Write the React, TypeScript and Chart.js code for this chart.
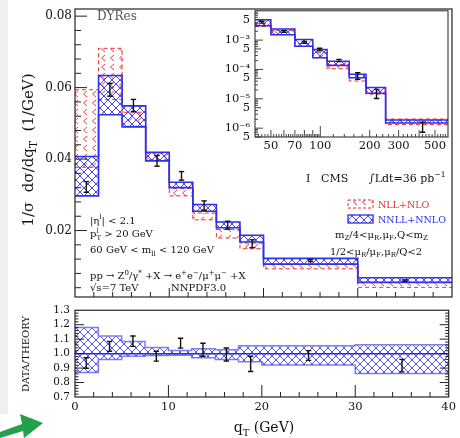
import React, { useEffect, useRef } from "react";
import { Chart, registerables } from "chart.js";
Chart.register(...registerables);

const FONT = '"DejaVu Serif", "Liberation Serif", serif';

// ---------- main panel data (1/sigma dsigma/dqT) ----------
const binEdges = [0, 2.5, 5, 7.5, 10, 12.5, 15, 17.5, 20, 30, 40];
const nnllHigh = [0.0407, 0.0634, 0.0549, 0.0419, 0.0335, 0.0273, 0.0224, 0.0187, 0.0122, 0.0068];
const nnllLow = [0.0297, 0.0524, 0.0490, 0.0395, 0.0320, 0.0254, 0.0208, 0.0168, 0.0106, 0.0055];
const nloHigh = [0.0594, 0.0710, 0.0531, 0.0416, 0.0317, 0.0249, 0.0203, 0.0165, 0.0106, 0.0055];
const nloLow = [0.0377, 0.0567, 0.0492, 0.0398, 0.0297, 0.0230, 0.0179, 0.0149, 0.0093, 0.0041];
const dataX = [1.2, 3.7, 6.2, 8.7, 11.3, 13.7, 16.2, 18.8, 25, 35];
const dataY = [0.0322, 0.0594, 0.0550, 0.0395, 0.0353, 0.0270, 0.0215, 0.0163, 0.0116, 0.0060];
const dataErr = [0.0015, 0.0018, 0.0017, 0.0015, 0.0012, 0.0013, 0.0011, 0.0011, 0.0003, 0.0002];
const mainYTicks = [0.02, 0.04, 0.06, 0.08];

// ---------- ratio panel data ----------
const ratioHigh = [1.18, 1.122, 1.084, 1.043, 1.021, 1.034, 1.027, 1.055, 1.055, 1.061];
const ratioLow = [0.87, 0.96, 0.982, 0.987, 0.989, 0.971, 0.96, 0.944, 0.922, 0.863];
const ratioData = [0.935, 1.05, 1.086, 0.982, 1.072, 1.027, 0.994, 0.929, 0.987, 0.917];
const ratioErr = [0.036, 0.034, 0.036, 0.034, 0.034, 0.045, 0.045, 0.053, 0.034, 0.043];
const ratioYTicks = [0.7, 0.8, 0.9, 1.0, 1.1, 1.2, 1.3];
const xTicks = [0, 10, 20, 30, 40];

// ---------- inset data (high qT, log-log) ----------
const insetEdges = [40, 50, 70, 90, 110, 150, 190, 250, 600];
const insetNnllHigh = [4.9e-3, 2.37e-3, 1.04e-3, 4.8e-4, 1.92e-4, 6.8e-5, 2.41e-5, 1.9e-6];
const insetNnllLow = [3.1e-3, 1.53e-3, 6.2e-4, 2.5e-4, 1.37e-4, 5.25e-5, 1.55e-5, 1.5e-6];
const insetNloHigh = [3.6e-3, 2.14e-3, 7.6e-4, 3.7e-4, 1.49e-4, 5.25e-5, 1.86e-5, 2.05e-6];
const insetNloLow = [2.9e-3, 1.53e-3, 6.2e-4, 2.5e-4, 1.06e-4, 4.05e-5, 1.44e-5, 1.32e-6];
const insetDataX = [44, 60, 80, 99, 130, 169, 220, 420];
const insetDataLow = [3.8e-3, 1.85e-3, 7.8e-4, 4.3e-4, 1.85e-4, 4.6e-5, 1.02e-5, 7.3e-7];
const insetDataHigh = [4.4e-3, 2.1e-3, 9.0e-4, 5.3e-4, 2.2e-4, 7.7e-5, 2.1e-5, 1.6e-6];
const insetXTicks = [50, 70, 100, 200, 300, 500];
const insetYTicks = [5e-7, 1e-6, 5e-6, 1e-5, 5e-5, 1e-4, 5e-4, 1e-3, 5e-3];

const BLUE = "#2f2fee";
const RED = "#ec2f33";

const stepPoints = (edges: number[], vals: number[]) => {
  const pts: any[] = vals.map((v, i) => ({ x: edges[i], y: v }));
  pts.push({ x: edges[edges.length - 1], y: vals[vals.length - 1] });
  return pts;
};
const errPoints = (xs: number[], lo: number[], hi: number[]) =>
  xs.flatMap((x, i) => [{ x, y: lo[i] }, { x, y: hi[i] }, { x, y: null }]);

function bluePattern(ctx: CanvasRenderingContext2D, color: string) {
  const t = document.createElement("canvas");
  t.width = 8; t.height = 8;
  const c = t.getContext("2d")!;
  c.strokeStyle = color; c.lineWidth = 0.9;
  c.beginPath();
  c.moveTo(0, 0); c.lineTo(8, 8);
  c.moveTo(8, 0); c.lineTo(0, 8);
  c.stroke();
  return ctx.createPattern(t, "repeat")!;
}
function redPattern(ctx: CanvasRenderingContext2D) {
  const t = document.createElement("canvas");
  t.width = 9; t.height = 9;
  const c = t.getContext("2d")!;
  c.strokeStyle = "#f04044"; c.lineWidth = 1;
  c.beginPath();
  c.moveTo(6, 1); c.lineTo(2.5, 4); c.lineTo(6, 7);
  c.stroke();
  return ctx.createPattern(t, "repeat")!;
}

type Seg = [string, number];
function drawRich(ctx: CanvasRenderingContext2D, segs: Seg[], x: number, y: number, size: number, color: string, align = "left") {
  ctx.save();
  ctx.fillStyle = color;
  ctx.textBaseline = "alphabetic";
  ctx.textAlign = "left";
  const small = size * 0.7;
  const widths = segs.map(([t, k]) => {
    if (k === 0) { ctx.font = `${size}px ${FONT}`; return ctx.measureText(t).width; }
    ctx.font = `${small}px ${FONT}`;
    if (k === 3) { const [a, b] = t.split("|"); return Math.max(ctx.measureText(a).width, ctx.measureText(b).width); }
    return ctx.measureText(t).width;
  });
  const total = widths.reduce((a, b) => a + b, 0);
  let cx = align === "center" ? x - total / 2 : align === "right" ? x - total : x;
  segs.forEach(([t, k], i) => {
    if (k === 0) { ctx.font = `${size}px ${FONT}`; ctx.fillText(t, cx, y); }
    else {
      ctx.font = `${small}px ${FONT}`;
      if (k === 1) ctx.fillText(t, cx, y + size * 0.25);
      else if (k === 2) ctx.fillText(t, cx, y - size * 0.42);
      else { const [a, b] = t.split("|"); ctx.fillText(a, cx, y + size * 0.28); ctx.fillText(b, cx, y - size * 0.42); }
    }
    cx += widths[i];
  });
  ctx.restore();
}

function line(ctx: CanvasRenderingContext2D, x1: number, y1: number, x2: number, y2: number) {
  ctx.beginPath(); ctx.moveTo(x1, y1); ctx.lineTo(x2, y2); ctx.stroke();
}

const supMap: Record<string, string> = { "-": "⁻", "0": "⁰", "1": "¹", "2": "²", "3": "³", "4": "⁴", "5": "⁵", "6": "⁶", "7": "⁷", "8": "⁸", "9": "⁹" };

const bandSet = (data: any[], color: string, width: number, dash: number[], bg: any, fill: boolean) => ({
  data, borderColor: color, borderWidth: width, borderDash: dash, stepped: true,
  pointRadius: 0, fill: fill ? "+1" : false, backgroundColor: bg,
});
const errSet = (data: any[]) => ({
  data, borderColor: "#111", borderWidth: 1.4, pointStyle: "line", pointRadius: 2.7,
  pointBorderWidth: 1.4, pointBorderColor: "#111", pointBackgroundColor: "#111",
  fill: false, spanGaps: false,
});

const yAxis = (extra: any, width: number, size: number, pad: number, fmt: (v: number) => string, ticksArr: number[]) => ({
  ...extra,
  afterFit: (s: any) => { s.width = width; },
  afterBuildTicks: (s: any) => { s.ticks = ticksArr.map((value) => ({ value })); },
  grid: { display: false, drawTicks: false },
  border: { display: false },
  ticks: { autoSkip: false, autoSkipPadding: 0, padding: pad, color: "#111", font: { family: FONT, size, lineHeight: 1 }, callback: (v: any) => fmt(Number(v)) },
});
const xAxis = (extra: any, height: number, size: number, pad: number, ticksArr: number[]) => ({
  ...extra,
  position: "bottom",
  afterFit: (s: any) => { s.height = height; },
  afterBuildTicks: (s: any) => { s.ticks = ticksArr.map((value) => ({ value })); },
  grid: { display: false, drawTicks: false },
  border: { display: false },
  ticks: { autoSkip: false, autoSkipPadding: 0, maxRotation: 0, minRotation: 0, padding: pad, color: "#111", font: { family: FONT, size, lineHeight: 1 }, callback: (v: any) => String(v) },
});

export default function App() {
  const mainRef = useRef<HTMLCanvasElement>(null);
  const ratioRef = useRef<HTMLCanvasElement>(null);
  const insetRef = useRef<HTMLCanvasElement>(null);

  useEffect(() => {
    const charts: Chart[] = [];
    // ---------------- MAIN ----------------
    const mctx = mainRef.current!.getContext("2d")!;
    const mBlue = bluePattern(mctx, "#3434e6");
    const mRed = redPattern(mctx);
    const mainDeco = {
      id: "mainDeco",
      afterDraw(chart: any) {
        const { ctx, chartArea: { left, top, right, bottom }, scales: { x, y } } = chart;
        ctx.save();
        ctx.strokeStyle = "#222"; ctx.lineWidth = 1.2;
        ctx.strokeRect(left, top, right - left, bottom - top);
        ctx.lineWidth = 1;
        for (let k = 1; k <= 20; k++) {
          const py = y.getPixelForValue(k * 0.004);
          if (py < top) continue;
          line(ctx, left, py, left + (k % 5 === 0 ? 12 : 6), py);
        }
        for (let v = 2; v < 40; v += 2) {
          const px = x.getPixelForValue(v);
          line(ctx, px, bottom, px, bottom - (v % 10 === 0 ? 9 : 5));
        }
        // y title
        ctx.save();
        ctx.translate(33, 150);
        ctx.rotate(-Math.PI / 2);
        drawRich(ctx, [["1/σ  dσ/dq", 0], ["T", 1], ["  (1/GeV)", 0]], 0, 0, 15, "#111", "center");
        ctx.restore();
        drawRich(ctx, [["DYRes", 0]], 97, 19.5, 12, "#555");
        drawRich(ctx, [["I", 0]], 306, 182, 11, "#111");
        drawRich(ctx, [["CMS", 0]], 321, 182, 11, "#111");
        drawRich(ctx, [["∫Ldt=36 pb", 0], ["−1", 2]], 369, 182, 11, "#111");
        // legend
        ctx.fillStyle = mRed; ctx.fillRect(348, 200, 25, 8);
        ctx.strokeStyle = RED; ctx.setLineDash([3, 2]); ctx.strokeRect(348, 200, 25, 8); ctx.setLineDash([]);
        drawRich(ctx, [["NLL+NLO", 0]], 378, 207.5, 9.5, RED);
        ctx.fillStyle = mBlue; ctx.fillRect(348, 215, 25, 8);
        ctx.strokeStyle = BLUE; ctx.lineWidth = 1.3; ctx.strokeRect(348, 215, 25, 8);
        drawRich(ctx, [["NNLL+NNLO", 0]], 378, 222.5, 9.5, BLUE);
        drawRich(ctx, [["m", 0], ["Z", 1], ["/4<μ", 0], ["R", 1], [",μ", 0], ["F", 1], [",Q<m", 0], ["Z", 1]], 335, 237.5, 10, "#111");
        drawRich(ctx, [["1/2<μ", 0], ["R", 1], ["/μ", 0], ["F", 1], [",μ", 0], ["R", 1], ["/Q<2", 0]], 330, 254.5, 10, "#111");
        // process text
        drawRich(ctx, [["|η", 0], ["l", 2], ["| < 2.1", 0]], 90, 223.5, 10, "#111");
        drawRich(ctx, [["p", 0], ["T|l", 3], [" > 20 GeV", 0]], 90, 237, 10, "#111");
        drawRich(ctx, [["60 GeV < m", 0], ["ll", 1], [" < 120 GeV", 0]], 90, 253, 10, "#111");
        drawRich(ctx, [["pp → Z", 0], ["0", 2], ["/γ", 0], ["*", 2], [" +X → e", 0], ["+", 2], ["e", 0], ["−", 2], ["/μ", 0], ["+", 2], ["μ", 0], ["−", 2], [" +X", 0]], 90, 279, 10, "#111");
        drawRich(ctx, [["√s=7 TeV", 0]], 90, 291, 10, "#111");
        drawRich(ctx, [["NNPDF3.0", 0]], 171, 291, 10, "#111");
        ctx.restore();
      },
    };
    charts.push(new Chart(mainRef.current!, {
      type: "line",
      data: {
        datasets: [
          errSet(errPoints(dataX, dataY.map((v, i) => v - dataErr[i]), dataY.map((v, i) => v + dataErr[i]))),
          bandSet(stepPoints(binEdges, nnllHigh), BLUE, 1.6, [], mBlue, true),
          bandSet(stepPoints(binEdges, nnllLow), BLUE, 1.6, [], mBlue, false),
          bandSet(stepPoints(binEdges, nloHigh), RED, 1, [4, 3], mRed, true),
          bandSet(stepPoints(binEdges, nloLow), RED, 1, [4, 3], mRed, false),
        ] as any,
      },
      options: {
        animation: false, responsive: false, maintainAspectRatio: false,
        layout: { padding: { top: 3, right: 8, bottom: 4, left: 0 } },
        plugins: { legend: { display: false }, tooltip: { enabled: false } },
        scales: {
          x: { type: "linear", min: 0, max: 40, display: false },
          y: yAxis({ type: "linear", min: 0.0014, max: 0.082 }, 75, 12, 3, (v) => v.toFixed(2), mainYTicks),
        },
      } as any,
      plugins: [mainDeco],
    }));

    // ---------------- RATIO ----------------
    const rctx = ratioRef.current!.getContext("2d")!;
    const rBlue = bluePattern(rctx, "#4646e6");
    const ratioDeco = {
      id: "ratioDeco",
      afterDraw(chart: any) {
        const { ctx, chartArea: { left, top, right, bottom }, scales: { x, y } } = chart;
        ctx.save();
        ctx.strokeStyle = "#222"; ctx.lineWidth = 1.2;
        ctx.strokeRect(left, top, right - left, bottom - top);
        ctx.lineWidth = 1;
        for (let k = 36; k < 65; k++) {
          const py = y.getPixelForValue(k * 0.02);
          const len = k % 5 === 0 ? 9 : 3.5;
          line(ctx, left, py, left + len, py);
          line(ctx, right, py, right - len, py);
        }
        for (let v = 2; v < 40; v += 2) {
          const px = x.getPixelForValue(v);
          line(ctx, px, bottom, px, bottom - (v % 10 === 0 ? 12 : 5));
        }
        ctx.save();
        ctx.translate(28.5, 54);
        ctx.rotate(-Math.PI / 2);
        drawRich(ctx, [["DATA/THEORY", 0]], 0, 0, 10, "#111", "center");
        ctx.restore();
        drawRich(ctx, [["q", 0], ["T", 1], [" (GeV)", 0]], 264, 132, 14, "#111", "center");
        // green arrow decoration
        ctx.fillStyle = "#22a04b";
        ctx.beginPath();
        ctx.moveTo(0, 132); ctx.lineTo(22, 124); ctx.lineTo(20, 114); ctx.lineTo(43, 123);
        ctx.lineTo(24, 138); ctx.lineTo(23, 131); ctx.lineTo(0, 138); ctx.closePath();
        ctx.fill();
        ctx.restore();
      },
    };
    charts.push(new Chart(ratioRef.current!, {
      type: "line",
      data: {
        datasets: [
          errSet(errPoints(dataX, ratioData.map((v, i) => v - ratioErr[i]), ratioData.map((v, i) => v + ratioErr[i]))),
          { data: [{ x: 0, y: 1 }, { x: 40, y: 1 }], borderColor: "#2a2ae8", borderWidth: 1.5, pointRadius: 0, fill: false },
          bandSet(stepPoints(binEdges, ratioHigh), "#7e7ef2", 1.5, [], rBlue, true),
          bandSet(stepPoints(binEdges, ratioLow), "#7e7ef2", 1.5, [], rBlue, false),
        ] as any,
      },
      options: {
        animation: false, responsive: false, maintainAspectRatio: false,
        layout: { padding: { top: 8, right: 8, bottom: 0, left: 0 } },
        plugins: { legend: { display: false }, tooltip: { enabled: false } },
        scales: {
          x: xAxis({ type: "linear", min: 0, max: 40 }, 41, 11.5, 4, xTicks),
          y: yAxis({ type: "linear", min: 0.7, max: 1.3 }, 75, 10.5, 5, (v) => v.toFixed(1), ratioYTicks),
        },
      } as any,
      plugins: [ratioDeco],
    }));

    // ---------------- INSET ----------------
    const ictx = insetRef.current!.getContext("2d")!;
    const iBlue = bluePattern(ictx, "#3434e6");
    const iRed = redPattern(ictx);
    const insetDeco = {
      id: "insetDeco",
      afterDraw(chart: any) {
        const { ctx, chartArea: { left, top, right, bottom }, scales: { x, y } } = chart;
        ctx.save();
        ctx.strokeStyle = "#333"; ctx.lineWidth = 1.1;
        ctx.strokeRect(left, top, right - left, bottom - top);
        ctx.lineWidth = 0.9;
        for (let e = -7; e <= -3; e++) {
          for (let m = 1; m <= 9; m++) {
            const v = m * Math.pow(10, e);
            if (v < 5e-7 || v > 1e-2) continue;
            const py = y.getPixelForValue(v);
            line(ctx, left, py, left + (m === 1 ? 8 : m === 5 ? 6 : 3), py);
          }
        }
        for (let v = 42; v < 100; v += 2) {
          const px = x.getPixelForValue(v);
          line(ctx, px, bottom, px, bottom - (v % 10 === 0 ? 7 : 3));
        }
        for (let v = 100; v < 600; v += 20) {
          const px = x.getPixelForValue(v);
          line(ctx, px, bottom, px, bottom - (v === 100 ? 11 : v % 100 === 0 ? 7 : 3));
        }
        ctx.restore();
      },
    };
    charts.push(new Chart(insetRef.current!, {
      type: "line",
      data: {
        datasets: [
          errSet(errPoints(insetDataX, insetDataLow, insetDataHigh)),
          bandSet(stepPoints(insetEdges, insetNnllHigh), BLUE, 1.5, [], iBlue, true),
          bandSet(stepPoints(insetEdges, insetNnllLow), BLUE, 1.5, [], iBlue, false),
          bandSet(stepPoints(insetEdges, insetNloHigh), RED, 1, [4, 3], iRed, true),
          bandSet(stepPoints(insetEdges, insetNloLow), RED, 1, [4, 3], iRed, false),
        ] as any,
      },
      options: {
        animation: false, responsive: false, maintainAspectRatio: false,
        layout: { padding: { top: 10, right: 12, bottom: 0, left: 0 } },
        plugins: { legend: { display: false }, tooltip: { enabled: false } },
        scales: {
          x: xAxis({ type: "logarithmic", min: 40, max: 600 }, 23, 11.5, 3, insetXTicks),
          y: yAxis({ type: "logarithmic", min: 5e-7, max: 1e-2 }, 55, 11.5, 5, (v) => {
            const e = Math.floor(Math.log10(v) + 1e-9);
            const m = Math.round(v / Math.pow(10, e));
            return m === 1 ? "10" + String(e).split("").map((c) => supMap[c]).join("") : String(m);
          }, insetYTicks),
        },
      } as any,
      plugins: [insetDeco],
    }));

    return () => charts.forEach((c) => c.destroy());
  }, []);

  return (
    <div style={{ position: "absolute", left: 0, top: 0, width: 460, height: 438, background: "#fff", overflow: "hidden" }}>
      <div style={{ position: "absolute", left: 0, top: 0, width: 8, height: 414, background: "#efefef" }} />
      <canvas ref={mainRef} width={460} height={306} style={{ position: "absolute", left: 0, top: 0, width: 460, height: 306 }} />
      <canvas ref={ratioRef} width={460} height={138} style={{ position: "absolute", left: 0, top: 300, width: 460, height: 138 }} />
      <canvas ref={insetRef} width={260} height={160} style={{ position: "absolute", left: 200, top: 0, width: 260, height: 160 }} />
    </div>
  );
}
